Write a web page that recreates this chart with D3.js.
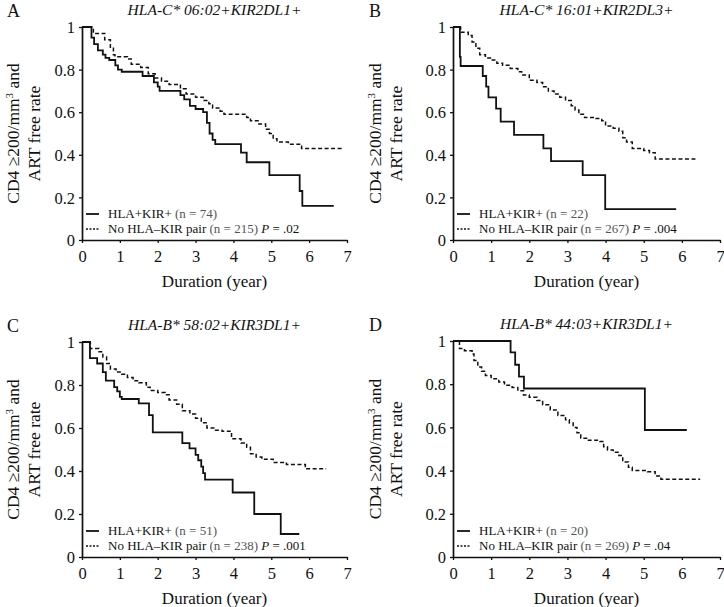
<!DOCTYPE html>
<html><head><meta charset="utf-8">
<script src="https://cdn.jsdelivr.net/npm/d3@7/dist/d3.min.js"></script>
<style>
body{margin:0;background:#fff}
text{font-family:"Liberation Serif","Times New Roman",serif;fill:#111}
</style>
</head><body>
<svg id="chart" width="724" height="607"></svg>
<script>
// ---- data ----
const xTicks = [0,1,2,3,4,5,6,7];
const yTicks = [0,0.2,0.4,0.6,0.8,1];
const yTickLabels = ["0","0.2","0.4","0.6","0.8","1"];
const panelLetters = ["A","B","C","D"];
const panelTitles = ["HLA-C* 06:02+KIR2DL1+","HLA-C* 16:01+KIR2DL3+","HLA-B* 58:02+KIR3DL1+","HLA-B* 44:03+KIR3DL1+"];
const groupN = [74,22,51,20];
const refN = [215,267,238,269];
const pValues = [".02",".004",".001",".04"];

// Panel A
const aPairTime = [0,0.25,0.32,0.42,0.55,0.62,0.72,0.88,0.95,1.05,1.6,1.9,2.0,2.05,2.6,2.7,2.85,3.0,3.2,3.3,3.37,3.45,3.52,4.2,4.35,4.95,5.75,5.82,6.65];
const aPairSurv = [1,0.95,0.92,0.89,0.87,0.855,0.845,0.82,0.80,0.79,0.77,0.74,0.72,0.70,0.68,0.66,0.63,0.615,0.60,0.55,0.50,0.47,0.45,0.41,0.365,0.305,0.23,0.16,0.16];
const aNoTime = [0,0.3,0.6,0.75,0.83,0.87,1.2,1.3,1.55,1.75,1.93,2.1,2.3,2.6,2.75,3.0,3.2,3.35,3.45,3.65,3.75,4.35,4.45,4.65,4.85,4.95,5.05,5.15,5.45,5.8,6.9];
const aNoSurv = [1,0.97,0.94,0.90,0.87,0.86,0.85,0.825,0.81,0.78,0.76,0.745,0.73,0.71,0.685,0.67,0.655,0.64,0.62,0.605,0.59,0.575,0.56,0.545,0.52,0.50,0.475,0.46,0.45,0.43,0.43];
// Panel B
const bPairTime = [0,0.18,0.2,0.78,0.87,0.93,1.13,1.25,1.6,2.37,2.57,3.4,3.99,5.85];
const bPairSurv = [1,0.86,0.817,0.77,0.72,0.67,0.617,0.556,0.494,0.43,0.37,0.305,0.145,0.145];
const bNoTime = [0,0.2,0.4,0.5,0.6,0.7,0.85,1.0,1.15,1.3,1.5,1.7,1.8,2.0,2.2,2.35,2.5,2.65,2.8,2.95,3.1,3.2,3.3,3.45,3.7,3.9,4.0,4.2,4.35,4.45,4.55,4.7,5.0,5.15,5.3,6.38];
const bNoSurv = [1,0.975,0.96,0.93,0.90,0.87,0.855,0.845,0.83,0.82,0.805,0.79,0.775,0.75,0.74,0.72,0.70,0.685,0.67,0.655,0.63,0.61,0.59,0.575,0.57,0.56,0.535,0.525,0.51,0.48,0.46,0.43,0.42,0.41,0.38,0.38];
// Panel C
const cPairTime = [0,0.21,0.4,0.55,0.63,0.85,0.93,1.0,1.05,1.5,1.77,1.87,2.65,2.84,3.0,3.07,3.15,3.2,3.25,3.98,4.55,5.25,5.74];
const cPairSurv = [1,0.925,0.90,0.86,0.82,0.79,0.77,0.745,0.735,0.715,0.66,0.58,0.53,0.505,0.475,0.45,0.42,0.39,0.36,0.30,0.20,0.107,0.107];
const cNoTime = [0,0.22,0.45,0.55,0.65,0.75,0.9,1.05,1.2,1.35,1.5,1.7,1.8,2.0,2.2,2.3,2.5,2.65,2.85,3.0,3.15,3.3,3.5,3.7,3.95,4.2,4.35,4.45,4.6,4.75,5.05,5.4,5.9,6.45];
const cNoSurv = [1,0.97,0.955,0.93,0.90,0.875,0.86,0.85,0.835,0.82,0.81,0.79,0.775,0.765,0.755,0.73,0.71,0.68,0.665,0.645,0.625,0.60,0.59,0.585,0.55,0.53,0.51,0.48,0.465,0.455,0.44,0.43,0.41,0.41];
// Panel D
const dPairTime = [0,1.51,1.63,1.73,1.86,5.03,6.13];
const dPairSurv = [1,0.947,0.89,0.835,0.78,0.588,0.588];
const dNoTime = [0,0.17,0.3,0.5,0.55,0.65,0.75,0.85,1.0,1.2,1.35,1.55,1.7,1.85,2.0,2.2,2.35,2.55,2.75,2.95,3.05,3.15,3.25,3.35,3.55,3.85,3.95,4.05,4.2,4.35,4.45,4.6,4.7,5.1,5.3,5.45,6.48];
const dNoSurv = [1,0.965,0.955,0.94,0.91,0.88,0.86,0.84,0.825,0.81,0.795,0.785,0.77,0.75,0.74,0.725,0.705,0.68,0.655,0.635,0.62,0.60,0.575,0.55,0.54,0.535,0.51,0.495,0.485,0.47,0.44,0.415,0.40,0.395,0.375,0.36,0.36];

const pairTimes = [aPairTime,bPairTime,cPairTime,dPairTime];
const pairSurvs = [aPairSurv,bPairSurv,cPairSurv,dPairSurv];
const noTimes = [aNoTime,bNoTime,cNoTime,dNoTime];
const noSurvs = [aNoSurv,bNoSurv,cNoSurv,dNoSurv];

// ---- layout ----
const layout = [
  {left:82, right:347, top:27, bottom:240, ox:0},
  {left:453, right:720, top:27, bottom:240, ox:362},
  {left:82, right:347, top:342, bottom:557, ox:0},
  {left:453, right:720, top:341, bottom:557, ox:362}
];

const svg = d3.select("#chart");
const FONT = '"Liberation Serif","Times New Roman",serif';

layout.forEach((L,i)=>{
  const g = svg.append("g");
  const x = d3.scaleLinear().domain([0,7]).range([L.left,L.right]);
  const y = d3.scaleLinear().domain([0,1]).range([L.bottom,L.top]);

  // letter + title
  g.append("text").attr("x",L.ox+7).attr("y",L.top-10).attr("font-size",18).text(panelLetters[i]);
  g.append("text").attr("x",(L.left+L.right)/2).attr("y",L.top-12).attr("text-anchor","middle")
    .attr("font-size",15.5).attr("font-style","italic").text(panelTitles[i]);

  // axes
  const xa = g.append("g").attr("transform",`translate(0,${L.bottom})`)
    .call(d3.axisBottom(x).tickValues(xTicks).tickFormat(d3.format("d")).tickSizeInner(3).tickSizeOuter(0).tickPadding(5));
  const ya = g.append("g").attr("transform",`translate(${L.left},0)`)
    .call(d3.axisLeft(y).tickValues(yTicks).tickFormat((d,j)=>yTickLabels[j]).tickSizeInner(3).tickSizeOuter(0).tickPadding(4));
  [xa,ya].forEach(a=>{
    a.attr("font-family",FONT);
    a.select(".domain").attr("stroke","#111").attr("stroke-width",1.7);
    a.selectAll(".tick line").attr("stroke","#111").attr("stroke-width",1.3);
    a.selectAll(".tick text").attr("font-size",16.5).attr("fill","#111").style("font-family",FONT);
  });
  xa.selectAll(".tick text").attr("dy","0.85em");
  ya.selectAll(".tick text").attr("dy","0.35em");

  // axis titles
  g.append("text").attr("x",(L.left+L.right)/2).attr("y",L.bottom+47).attr("text-anchor","middle")
    .attr("font-size",17).text("Duration (year)");
  const cy = (L.top+L.bottom)/2;
  const t1 = g.append("text").attr("transform",`translate(${L.ox+19},${cy}) rotate(-90)`)
    .attr("text-anchor","middle").attr("font-size",17.5);
  t1.append("tspan").text("CD4 \u2265200/mm");
  t1.append("tspan").attr("dy",-6).attr("font-size",11).text("3");
  t1.append("tspan").attr("dy",6).text(" and");
  g.append("text").attr("transform",`translate(${L.ox+40},${cy}) rotate(-90)`)
    .attr("text-anchor","middle").attr("font-size",17.5).text("ART free rate");

  // curves
  const line = d3.line().x(d=>x(d[0])).y(d=>y(d[1])).curve(d3.curveStepAfter);
  const noData = noTimes[i].map((t,k)=>[t,noSurvs[i][k]]);
  const pairData = pairTimes[i].map((t,k)=>[t,pairSurvs[i][k]]);
  g.append("path").datum(noData).attr("d",line).attr("fill","none").attr("stroke","#111")
    .attr("stroke-width",1.5).attr("stroke-dasharray","4,2.5");
  g.append("path").datum(pairData).attr("d",line).attr("fill","none").attr("stroke","#111")
    .attr("stroke-width",1.8);

  // legend
  const lx = L.left+4, ly1 = L.bottom-26, ly2 = L.bottom-11;
  g.append("line").attr("x1",lx).attr("x2",lx+13).attr("y1",ly1).attr("y2",ly1).attr("stroke","#111").attr("stroke-width",1.8);
  g.append("line").attr("x1",lx).attr("x2",lx+13).attr("y1",ly2).attr("y2",ly2).attr("stroke","#111").attr("stroke-width",1.5).attr("stroke-dasharray","2,1.5");
  const l1 = g.append("text").attr("x",lx+22).attr("y",ly1+4).attr("font-size",13);
  l1.append("tspan").text("HLA+KIR+ ");
  l1.append("tspan").style("fill","#555").text(`(n = ${groupN[i]})`);
  const l2 = g.append("text").attr("x",lx+22).attr("y",ly2+4).attr("font-size",13);
  l2.append("tspan").text("No HLA\u2013KIR pair ");
  l2.append("tspan").style("fill","#555").text(`(n = ${refN[i]}) `);
  l2.append("tspan").attr("font-style","italic").text("P");
  l2.append("tspan").text(` = ${pValues[i]}`);
});
</script>
</body></html>
